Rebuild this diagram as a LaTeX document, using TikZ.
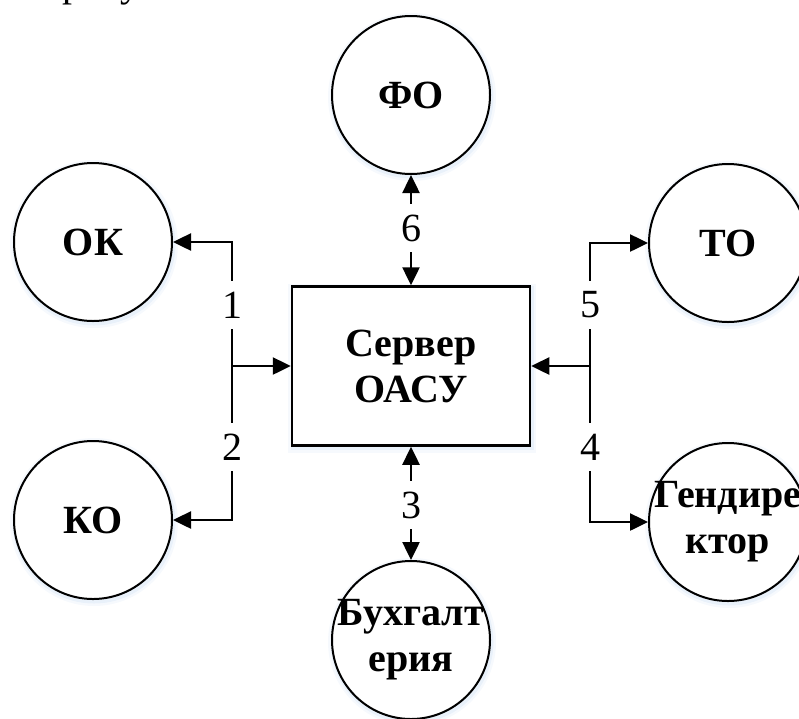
\documentclass[tikz,border=0pt]{standalone}
\usepackage{fontspec}
\setmainfont{Liberation Serif}
\usetikzlibrary{arrows.meta}
\definecolor{haze}{RGB}{170,200,235}
\begin{document}
\begin{tikzpicture}[x=1pt,y=-1pt,
  txt/.style={font=\fontsize{40}{46}\selectfont, inner sep=0pt, align=center},
  bold/.style={txt, font=\fontsize{40}{46}\selectfont\bfseries},
  soft/.style={
    preaction={draw=haze, line width=10pt, opacity=0.10, transform canvas={xshift=1pt,yshift=-2pt}},
    preaction={draw=haze, line width=5pt, opacity=0.18, transform canvas={xshift=1pt,yshift=-2pt}}},
  unit/.style={soft, circle, draw, fill=white, line width=2pt, minimum size=158pt, inner sep=0pt},
  server/.style={soft, draw, fill=white, line width=2.5pt, minimum width=238pt, minimum height=159pt, inner sep=0pt},
  link/.style={line width=2.5pt, -{Triangle[length=18pt,width=17pt]}},
  both/.style={line width=2.5pt, {Triangle[length=18pt,width=17pt]}-{Triangle[length=18pt,width=17pt]}},
  num/.style={txt, fill=white, inner xsep=3pt, inner ysep=11pt}
]
\useasboundingbox (0,0) rectangle (799,718);

% line of running text above the figure (only its descenders fall inside the page)
\node[txt, anchor=base west] (caption) at (62,-4) {рисунке};

% central server
\node[server] (srv) at (411,366) {};
\node[bold] (srvtext) at (srv) {Сервер\\ОАСУ};

% departments
\node[unit] (fo) at (411,95) {};
\node[bold] (fotext) at (fo) {ФО};
\node[unit] (ok) at (93,242) {};
\node[bold] (oktext) at (ok) {ОК};
\node[unit] (ko) at (93,520) {};
\node[bold] (kotext) at (ko) {КО};
\node[unit] (to) at (728,243) {};
\node[bold] (totext) at (to) {ТО};
\node[unit] (gd) at (728,522) {};
\node[bold] (gdtext) at (gd) {Гендире\\ктор};
\node[unit] (bh) at (411,640) {};
\node[bold] (bhtext) at (bh) {Бухгалт\\ерия};

% buses
\coordinate (lbus) at (232,366);
\coordinate (rbus) at (590,366);

\draw[both] (ok.east) -| (lbus) |- (ko.east);
\draw[link] (lbus) -- (srv.west);
\draw[both] (to.west) -| (rbus) |- (gd.west);
\draw[link] (rbus) -- (srv.east);
\draw[both] (fo.south) -- (srv.north);
\draw[both] (srv.south) -- (bh.north);

% channel numbers
\node[num] (n1) at (232,305) {1};
\node[num] (n2) at (232,447) {2};
\node[num] (n5) at (590,305) {5};
\node[num] (n4) at (590,447) {4};
\node[num] (n6) at (411,228) {6};
\node[num] (n3) at (411,505) {3};
\end{tikzpicture}
\end{document}
